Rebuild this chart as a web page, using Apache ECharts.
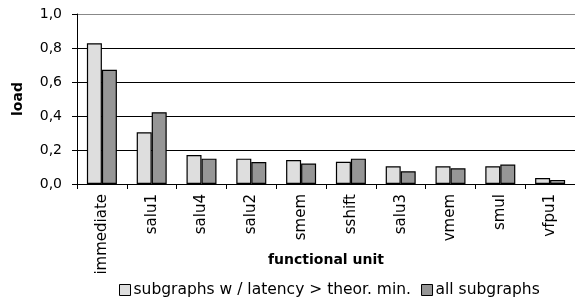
<!DOCTYPE html>
<html>
<head>
<meta charset="utf-8">
<script src="https://cdn.jsdelivr.net/npm/echarts@6/dist/echarts.min.js"></script>
<style>
  html, body { margin: 0; padding: 0; background: #fff; }
  #chart { width: 575px; height: 307px; }
</style>
</head>
<body>
<div id="chart"></div>
<script>
  // chart data
  var units = ['immediate', 'salu1', 'salu4', 'salu2', 'smem', 'sshift', 'salu3', 'vmem', 'smul', 'vfpu1'];
  var latencyLoad = [0.828, 0.304, 0.170, 0.149, 0.141, 0.131, 0.104, 0.104, 0.104, 0.035];
  var allLoad = [0.672, 0.422, 0.149, 0.129, 0.120, 0.149, 0.075, 0.092, 0.114, 0.024];
  var seriesNames = ['subgraphs w / latency > theor. min.', 'all subgraphs'];

  var font = 'DejaVu Sans';
  var chart = echarts.init(document.getElementById('chart'));

  chart.setOption({
    animation: false,
    textStyle: { fontFamily: font, color: '#000' },
    grid: { left: 77, top: 14, width: 500, height: 170 },
    legend: {
      left: 114,
      top: 277,
      icon: 'rect',
      itemWidth: 11,
      itemHeight: 11,
      itemGap: 10,
      textStyle: { fontFamily: font, fontSize: 15.5, color: '#000', padding: [0, 0, 0, -2] },
      itemStyle: { borderColor: '#000', borderWidth: 1 },
      data: seriesNames
    },
    xAxis: {
      type: 'category',
      data: units,
      name: 'functional unit',
      nameLocation: 'middle',
      nameGap: 69,
      nameMoveOverlap: false,
      nameTextStyle: { fontFamily: font, fontSize: 14, fontWeight: 'bold', color: '#000' },
      axisLine: { lineStyle: { color: '#000', width: 1 } },
      axisTick: { show: true, length: 5, lineStyle: { color: '#000' } },
      axisLabel: { rotate: 90, interval: 0, margin: 10, fontFamily: font, fontSize: 15, color: '#000' }
    },
    yAxis: {
      type: 'value',
      min: 0,
      max: 1,
      interval: 0.2,
      name: 'load',
      nameLocation: 'middle',
      nameGap: 52,
      nameTextStyle: { fontFamily: font, fontSize: 14, fontWeight: 'bold', color: '#000' },
      axisLine: { show: true, lineStyle: { color: '#000', width: 1 } },
      axisTick: { show: true, length: 5, lineStyle: { color: '#000' } },
      axisLabel: {
        margin: 15,
        fontFamily: font,
        fontSize: 14,
        color: '#000',
        formatter: function (v) { return v.toFixed(1).replace('.', ','); }
      },
      splitLine: {
        show: true,
        lineStyle: { color: ['#000', '#000', '#000', '#000', '#000', '#888'], width: 1 }
      }
    },
    series: [
      {
        name: seriesNames[0],
        type: 'bar',
        data: latencyLoad,
        barWidth: 15,
        barGap: '0%',
        itemStyle: { color: '#dedede', borderColor: '#000', borderWidth: 1.2 }
      },
      {
        name: seriesNames[1],
        type: 'bar',
        data: allLoad,
        barWidth: 15,
        barGap: '0%',
        itemStyle: { color: '#969696', borderColor: '#000', borderWidth: 1.2 }
      }
    ]
  });
</script>
</body>
</html>
